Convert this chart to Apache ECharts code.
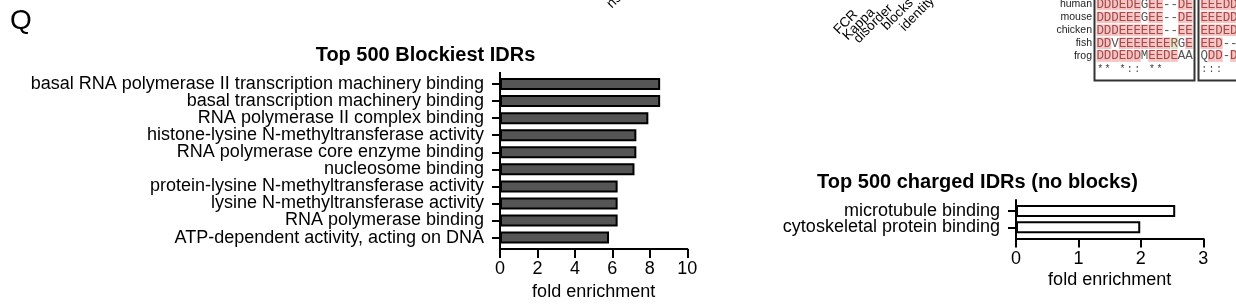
<!DOCTYPE html>
<html><head><meta charset="utf-8">
<script src="https://cdn.jsdelivr.net/npm/echarts@6/dist/echarts.min.js"></script>
<style>html,body{margin:0;padding:0;background:#fff}#c{width:1236px;height:307px}</style>
</head><body><div id="c"></div>
<script>
// ---- data ----
const blockyCategories = [
  'basal RNA polymerase II transcription machinery binding',
  'basal transcription machinery binding',
  'RNA polymerase II complex binding',
  'histone-lysine N-methyltransferase activity',
  'RNA polymerase core enzyme binding',
  'nucleosome binding',
  'protein-lysine N-methyltransferase activity',
  'lysine N-methyltransferase activity',
  'RNA polymerase binding',
  'ATP-dependent activity, acting on DNA'
];
const blockyValues = [8.55, 8.55, 7.92, 7.28, 7.28, 7.18, 6.28, 6.28, 6.28, 5.82];
const chargedCategories = ['microtubule binding', 'cytoskeletal protein binding'];
const chargedValues = [2.55, 1.99];
const blockyTitle = 'Top 500 Blockiest IDRs';
const chargedTitle = 'Top 500 charged IDRs (no blocks)';
const axisName = 'fold enrichment';
const panelLetter = 'Q';
const columnLabels = ['FCR', 'Kappa', 'disorder', 'blocks', 'identity'];
const alnSpecies = ['human', 'mouse', 'chicken', 'fish', 'frog'];
const alnBlock1 = ['DDDEDEGEE--DE', 'DDDEEEGEE--DE', 'DDDEEEEEE--EE', 'DDVEEEEEEERGE', 'DDDEDDMEEDEAA'];
const alnCons1 = '** *:: **';
const alnBlock2 = ['EEEDD', 'EEEDD', 'EEDED', 'EED--', 'QDD-D'];
const alnCons2 = ':::';

// ---- layout ----
const FONT = '"Liberation Sans", Arial, Helvetica, sans-serif';
const G1 = {left: 500, top: 75.5, width: 187.3, height: 170.6};
const G2 = {left: 1016, top: 202.8, width: 187.3, height: 32.6};
const AX_OFF = 3;

const chart = echarts.init(document.getElementById('c'), null, {renderer: 'canvas'});

function yAx(gi, cats) {
  return {
    type: 'category', gridIndex: gi, data: cats, inverse: true,
    axisLine: {show: false},
    axisTick: {show: true, alignWithLabel: true, length: 8, lineStyle: {color: '#000', width: 2}},
    axisLabel: {interval: 0, margin: 16, fontSize: 18, color: '#000', fontFamily: FONT},
    splitLine: {show: false}
  };
}
function xAx(gi, max, interval, margin, nameGap) {
  return {
    type: 'value', gridIndex: gi, min: 0, max: max, interval: interval, offset: AX_OFF,
    axisLine: {show: true, lineStyle: {color: '#000', width: 2}},
    axisTick: {show: true, length: 9, lineStyle: {color: '#000', width: 2}},
    axisLabel: {margin: margin, fontSize: 18, color: '#000', fontFamily: FONT},
    splitLine: {show: false},
    name: axisName, nameLocation: 'middle', nameGap: nameGap,
    nameTextStyle: {fontSize: 18, color: '#000', fontFamily: FONT}
  };
}

// graphics: titles, panel letter, axis-line extensions, decorative cropped content
const graphics = [];
graphics.push({type: 'text', style: {text: panelLetter, x: 10, y: 21, verticalAlign: 'middle', font: '28px ' + FONT, fill: '#000'}});
graphics.push({type: 'text', style: {text: blockyTitle, x: 425.5, y: 55, align: 'center', verticalAlign: 'middle', font: 'bold 20px ' + FONT, fill: '#000'}});
graphics.push({type: 'text', style: {text: chargedTitle, x: 977.5, y: 182, align: 'center', verticalAlign: 'middle', font: 'bold 20px ' + FONT, fill: '#000'}});
[G1, G2].forEach(g => {
  graphics.push({type: 'line', shape: {x1: g.left, y1: g.top - 3.5, x2: g.left, y2: g.top + g.height + AX_OFF + 1},
    style: {stroke: '#000', lineWidth: 2}});
});
// partial rotated label at top
graphics.push({type: 'text', x: 609, y: 6, rotation: Math.PI / 4, style: {text: 'ns', x: 0, y: 0, align: 'left', verticalAlign: 'middle', font: '14px ' + FONT, fill: '#000'}});
// rotated column labels
const colStarts = [[836, 32], [845, 38], [856, 41], [884, 28], [902, 29]];
columnLabels.forEach((t, i) => {
  graphics.push({type: 'text', x: colStarts[i][0], y: colStarts[i][1], rotation: Math.PI / 4,
    style: {text: t, x: 0, y: 0, align: 'left', verticalAlign: 'middle', font: '13.5px ' + FONT, fill: '#000'}});
});
// alignment
const CW = 7.4, RY0 = 4.5, RH = 12.9;
function drawBlock(rows, cons, x0) {
  rows.forEach((seq, r) => {
    const cy = RY0 + r * RH;
    for (let c = 0; c < seq.length; c++) {
      const ch = seq[c];
      const cx = x0 + c * CW;
      let bg = null, fg = '#555';
      if (ch === 'D' || ch === 'E') { bg = '#f6c3c3'; fg = '#a44a4a'; }
      else if (ch === 'R') { bg = '#d6ebc6'; fg = '#a44a4a'; }
      if (bg) graphics.push({type: 'rect', shape: {x: cx, y: cy - 5.8, width: CW, height: 11.6}, style: {fill: bg}, z: 1});
      graphics.push({type: 'text', z: 2, style: {text: ch, x: cx + CW / 2, y: cy, align: 'center', verticalAlign: 'middle', font: '12.5px "Liberation Mono", monospace', fill: fg}});
    }
  });
  for (let c = 0; c < cons.length; c++) {
    if (cons[c] === ' ') continue;
    graphics.push({type: 'text', z: 2, style: {text: cons[c], x: x0 + c * CW + CW / 2, y: RY0 + 5 * RH, align: 'center', verticalAlign: 'middle', font: '10px "Liberation Mono", monospace', fill: '#444'}});
  }
}
drawBlock(alnBlock1, alnCons1, 1096.5);
drawBlock(alnBlock2, alnCons2, 1200.5);
graphics.push({type: 'rect', z: 3, shape: {x: 1094.5, y: -5, width: 100, height: 85.5}, style: {fill: 'none', stroke: '#333', lineWidth: 2}});
graphics.push({type: 'rect', z: 3, shape: {x: 1198.5, y: -5, width: 60, height: 85.5}, style: {fill: 'none', stroke: '#333', lineWidth: 2}});
alnSpecies.forEach((s, r) => {
  graphics.push({type: 'text', style: {text: s, x: 1092, y: RY0 + r * RH, align: 'right', verticalAlign: 'middle', font: '10.5px ' + FONT, fill: '#222'}});
});

chart.setOption({
  animation: false,
  backgroundColor: '#fff',
  grid: [
    Object.assign({containLabel: false, outerBoundsMode: 'none'}, G1),
    Object.assign({containLabel: false, outerBoundsMode: 'none'}, G2)
  ],
  xAxis: [xAx(0, 10, 2, 11, 20), xAx(1, 3, 1, 12, 33)],
  yAxis: [yAx(0, blockyCategories), yAx(1, chargedCategories)],
  series: [
    {type: 'bar', xAxisIndex: 0, yAxisIndex: 0, data: blockyValues, barWidth: 12,
     itemStyle: {color: '#555555', borderColor: '#000', borderWidth: 2}},
    {type: 'bar', xAxisIndex: 1, yAxisIndex: 1, data: chargedValues, barWidth: 12,
     itemStyle: {color: '#ffffff', borderColor: '#000', borderWidth: 2}}
  ],
  graphic: graphics
});
</script></body></html>
